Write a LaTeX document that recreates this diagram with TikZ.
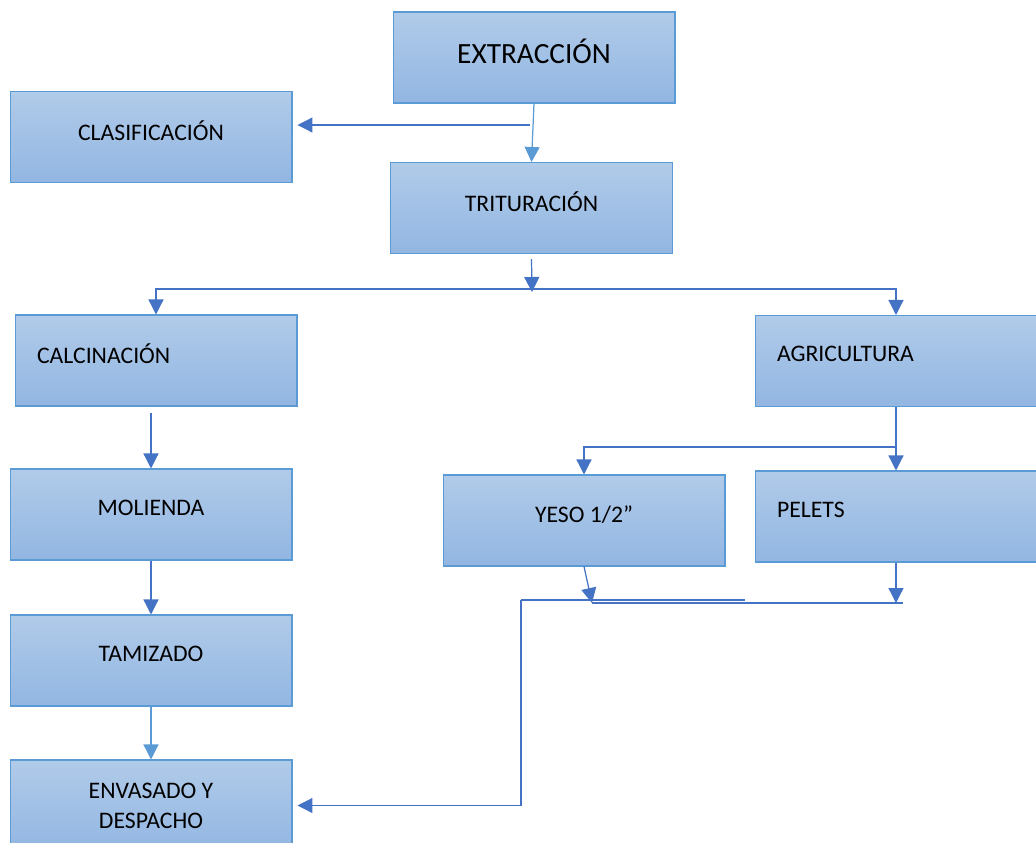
\documentclass[tikz,border=0pt]{standalone}
\usepackage{fontspec}
\setmainfont{Carlito}
\usetikzlibrary{arrows.meta,positioning,calc}
\definecolor{boxline}{HTML}{5B9BD5}
\definecolor{boxtop}{HTML}{B1CBE9}
\definecolor{boxbot}{HTML}{92B6E2}
\definecolor{darkarrow}{HTML}{4472C4}
\definecolor{litearrow}{HTML}{5B9BD5}
\begin{document}
\begin{tikzpicture}[x=0.02cm,y=-0.02cm,>={Triangle[length=0.3cm,width=0.3cm]},
   font=\fontsize{13.5}{17}\selectfont,
   stage/.style={draw=boxline,line width=0.6pt,top color=boxtop,bottom color=boxbot,
     minimum width=5.64cm,minimum height=1.82cm,inner sep=0pt,align=center,text depth=0.27cm},
   leftstage/.style={stage,text width=4.76cm,align=left},
   dark/.style={draw=darkarrow,line width=0.7pt},
   lite/.style={draw=litearrow,line width=0.7pt}]
  \useasboundingbox (0,0) rectangle (1036,843);
  \node[stage,font=\fontsize{16.7}{20}\selectfont] (ext) at (534,57.5) {EXTRACCIÓN};
  \node[stage] (clas) at (151,137) {CLASIFICACIÓN};
  \node[stage] (trit) at (531.5,208) {TRITURACIÓN};
  \node[leftstage] (calc) at (156,360.5) {CALCINACIÓN};
  \node[leftstage] (agri) at (896,361) {AGRICULTURA};
  \node[stage] (mol) at (151,514.5) {MOLIENDA};
  \node[stage] (tam) at (151,660.5) {TAMIZADO};
  \node[stage,text depth=] (env) at (151,805.5) {ENVASADO Y\\DESPACHO};
  \node[stage] (yeso) at (584,520.5) {YESO 1/2”};
  \node[leftstage] (pel) at (896,516.5) {PELETS};
  \coordinate (j1) at (530,125);
  \coordinate (j2) at (532,289);
  \coordinate (j3) at (897,447);
  \coordinate (j4) at (592,603);
  \coordinate (j5) at (521,600);
  \draw[lite,->] (ext.south) -- (trit.north);
  \draw[dark,->,shorten >=0.1cm] (j1) -- (j1 -| clas.east);
  \draw[dark,->] ($(trit.south)+(0,5)$) -- ($(j2)+(0,3)$);
  \draw[dark,->] (j2) -| (calc.north);
  \draw[dark,->] (j2) -| (agri.north);
  \draw[dark,->] (agri.south) -- (pel.north);
  \draw[dark,->] (j3) -| (yeso.north);
  \draw[dark,->,shorten <=0.12cm] (calc.south -| mol.north) -- (mol.north);
  \draw[dark,->] (mol.south) -- (tam.north);
  \draw[lite,->] (tam.south) -- (env.north);
  \draw[dark,->] (yeso.south) -- (j4);
  \draw[dark,->] (pel.south) -- (pel.south |- j4);
  \draw[dark] (j5) -- ++(224,0);
  \draw[dark] (j4) -- ++(311,0);
  \draw[dark,->,shorten >=0.1cm] (j5) |- (env.east);
\end{tikzpicture}
\end{document}
